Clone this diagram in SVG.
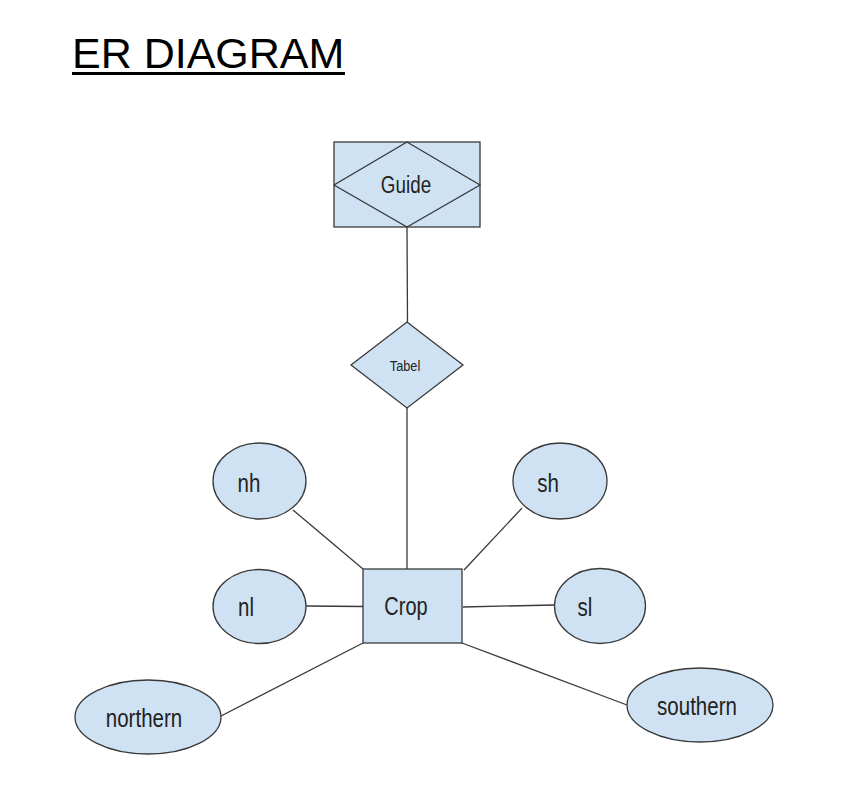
<svg xmlns="http://www.w3.org/2000/svg" width="853" height="805" viewBox="0 0 853 805">
<style>
.shape{fill:#cfe2f3;stroke:#3a3a3a;stroke-width:1.3}
.line{fill:none;stroke:#3a3a3a;stroke-width:1.3}
.lbl{font-family:"Liberation Sans",Arial,sans-serif;fill:#222;text-anchor:middle;dominant-baseline:central;font-size:25px}
</style>
<rect width="853" height="805" fill="#fff"/>
<g id="title">
<text x="72" y="68" font-family="Liberation Sans,Arial,sans-serif" font-size="43" fill="#000">ER DIAGRAM</text>
<rect x="72" y="72" width="273" height="3" fill="#000"/>
</g>
<g id="connectors">
<line class="line" x1="407" y1="227" x2="407.5" y2="322"/>
<line class="line" x1="407" y1="408" x2="407" y2="569"/>
<line class="line" x1="293" y1="510" x2="363" y2="569"/>
<line class="line" x1="522" y1="508" x2="464" y2="570"/>
<line class="line" x1="306" y1="606" x2="363" y2="606.5"/>
<line class="line" x1="463" y1="607" x2="554" y2="605"/>
<line class="line" x1="363" y1="643" x2="221" y2="716"/>
<line class="line" x1="462" y1="643" x2="627" y2="705"/>
</g>
<g id="guide">
<rect class="shape" x="334" y="142" width="146" height="85"/>
<polygon class="line" points="407,142 480,185 407,227 334,185"/>
<text class="lbl" transform="translate(406,185) scale(0.82,1)" style="font-size:23px">Guide</text>
</g>
<g id="tabel">
<polygon class="shape" points="407,322 463,365 407,408 351,365"/>
<text class="lbl" transform="translate(405,366) scale(0.85,1)" style="font-size:15px">Tabel</text>
</g>
<g id="crop">
<rect class="shape" x="363" y="569" width="99" height="74"/>
<text class="lbl" transform="translate(406,607) scale(0.8,1)">Crop</text>
</g>
<g id="nh">
<ellipse class="shape" cx="259.5" cy="481" rx="46.5" ry="38"/>
<text class="lbl" transform="translate(249,483) scale(0.82,1)">nh</text>
</g>
<g id="sh">
<ellipse class="shape" cx="560" cy="481" rx="47" ry="38"/>
<text class="lbl" transform="translate(548,483) scale(0.82,1)">sh</text>
</g>
<g id="nl">
<ellipse class="shape" cx="259.5" cy="606.5" rx="46.5" ry="37"/>
<text class="lbl" transform="translate(246,607) scale(0.82,1)">nl</text>
</g>
<g id="sl">
<ellipse class="shape" cx="600" cy="606" rx="45.5" ry="37.5"/>
<text class="lbl" transform="translate(585,607) scale(0.82,1)">sl</text>
</g>
<g id="northern">
<ellipse class="shape" cx="148" cy="717" rx="73" ry="37"/>
<text class="lbl" transform="translate(144,718) scale(0.82,1)">northern</text>
</g>
<g id="southern">
<ellipse class="shape" cx="700" cy="705" rx="73" ry="37"/>
<text class="lbl" transform="translate(697,706) scale(0.82,1)">southern</text>
</g>
</svg>
